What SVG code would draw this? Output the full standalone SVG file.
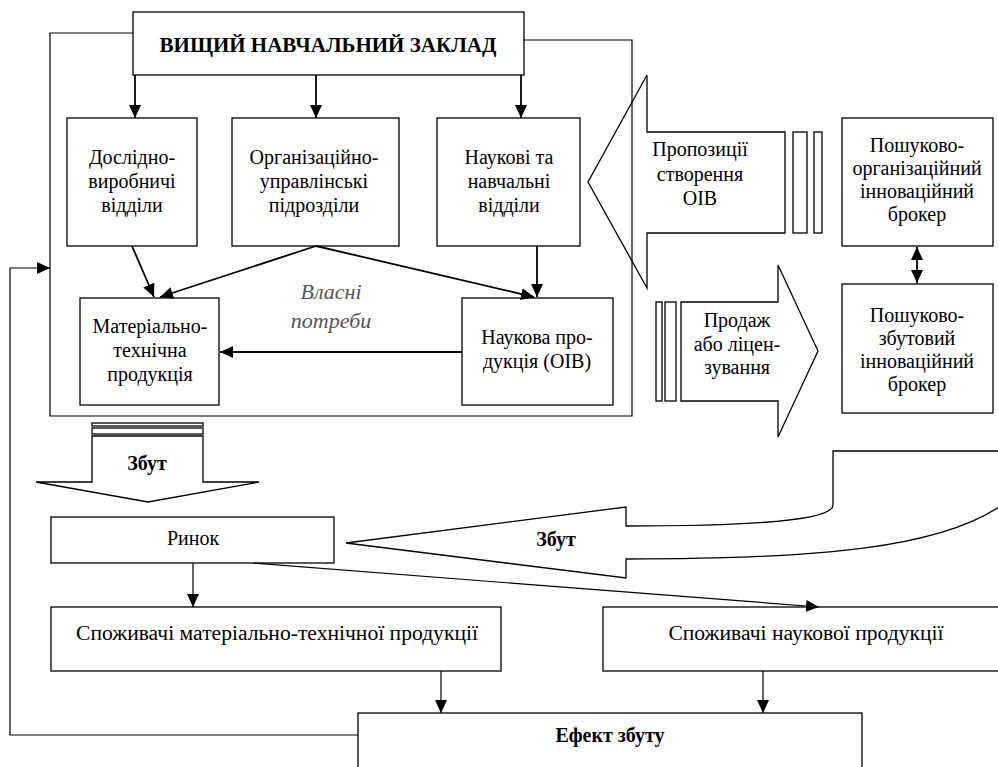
<svg xmlns="http://www.w3.org/2000/svg" width="998" height="767" viewBox="0 0 998 767">
<style>
  .box { fill: #fff; stroke: #000; stroke-width: 1.3; }
  .shape { fill: none; stroke: #000; stroke-width: 1.3; }
  .ln { fill: none; stroke: #000; stroke-width: 1.8; }
  .thin { fill: none; stroke: #000; stroke-width: 1.2; }
  text { font-family: "Liberation Serif", "Times New Roman", serif; font-size: 20px; fill: #000; text-anchor: middle; }
  .b { font-weight: bold; }
  .title { font-size: 21px; }
  .big { font-size: 21.6px; }
  .it { font-style: italic; fill: #555; font-size: 22px; }
</style>
<defs>
  <marker id="ah" markerUnits="userSpaceOnUse" markerWidth="13" markerHeight="12" refX="13" refY="6" orient="auto-start-reverse">
    <path d="M0,0 L13,6 L0,12 z" fill="#000"/>
  </marker>
</defs>
<rect width="998" height="767" fill="#fff"/>

<g id="container">
  <path class="thin" d="M133,33 H50 V416 H632 V40 H524"/>
</g>

<g id="vnz">
  <rect class="box" x="133" y="12" width="391" height="63"/>
  <text class="b title" x="328" y="52">ВИЩИЙ НАВЧАЛЬНИЙ ЗАКЛАД</text>
</g>
<g id="dosl">
  <rect class="box" x="67" y="118" width="130" height="128"/>
  <text x="132" y="164">Дослідно-</text>
  <text x="132" y="188">виробничі</text>
  <text x="132" y="212">відділи</text>
</g>
<g id="org">
  <rect class="box" x="232" y="118" width="167" height="128"/>
  <text x="314" y="164">Організаційно-</text>
  <text x="314" y="188">управлінські</text>
  <text x="314" y="212">підрозділи</text>
</g>
<g id="nauk">
  <rect class="box" x="437" y="118" width="143" height="128"/>
  <text x="509" y="164">Наукові та</text>
  <text x="509" y="188">навчальні</text>
  <text x="509" y="212">відділи</text>
</g>
<g id="mat">
  <rect class="box" x="80" y="298" width="139" height="107"/>
  <text x="150" y="333">Матеріально-</text>
  <text x="150" y="357">технічна</text>
  <text x="150" y="381">продукція</text>
</g>
<g id="naukprod">
  <rect class="box" x="462" y="298" width="151" height="107"/>
  <text x="537" y="344">Наукова про-</text>
  <text x="537" y="368">дукція (ОІВ)</text>
</g>
<g id="vlasni">
  <text class="it" x="331" y="299">Власні</text>
  <text class="it" x="331" y="328">потреби</text>
</g>

<g id="propozytsii">
  <polygon class="shape" points="785,132 647,132 647,75 588,182 647,288 647,233 785,233"/>
  <rect class="shape" x="793" y="132" width="14" height="101"/>
  <rect class="shape" x="814" y="132" width="8" height="101"/>
  <text x="700" y="156">Пропозиції</text>
  <text x="700" y="181">створення</text>
  <text x="700" y="205">ОІВ</text>
</g>
<g id="prodazh">
  <polygon class="shape" points="681,302 778,302 778,265 818,351 778,437 778,401 681,401"/>
  <rect class="shape" x="656" y="302" width="6" height="99"/>
  <rect class="shape" x="665" y="302" width="11" height="99"/>
  <text x="737" y="327">Продаж</text>
  <text x="737" y="351">або ліцен-</text>
  <text x="737" y="374">зування</text>
</g>
<g id="broker1">
  <rect class="box" x="842" y="118" width="151" height="128"/>
  <text x="917" y="152">Пошуково-</text>
  <text x="917" y="175">організаційний</text>
  <text x="917" y="198">інноваційний</text>
  <text x="917" y="221">брокер</text>
</g>
<g id="broker2">
  <rect class="box" x="842" y="284" width="151" height="129"/>
  <text x="917" y="322">Пошуково-</text>
  <text x="917" y="345">збутовий</text>
  <text x="917" y="368">інноваційний</text>
  <text x="917" y="391">брокер</text>
</g>

<g id="zbut1">
  <rect class="shape" x="92" y="423" width="111" height="3"/>
  <rect class="shape" x="92" y="428" width="111" height="6"/>
  <polygon class="shape" points="92,436 203,436 203,482 259,482 148,502 36,482 92,482"/>
  <text class="b" x="147" y="470">Збут</text>
</g>
<g id="zbut2">
  <path class="shape" d="M1000,451 H833 V505 C833,520 760,526 626,526 V507 L346,543 L626,578 V559 C820,559 940,548 1002,505"/>
  <text class="b" x="556" y="546">Збут</text>
</g>
<g id="rynok">
  <rect class="box" x="51" y="517" width="283" height="46"/>
  <text x="193" y="545">Ринок</text>
</g>
<g id="spmtp">
  <rect class="box" x="51" y="607" width="450" height="64"/>
  <text class="big" x="277" y="640">Споживачі матеріально-технічної продукції</text>
</g>
<g id="spnp">
  <rect class="box" x="603" y="607" width="410" height="64"/>
  <text class="big" x="806" y="640">Споживачі наукової продукції</text>
</g>
<g id="efekt">
  <rect class="box" x="358" y="713" width="504" height="70"/>
  <text class="b" x="610" y="742">Ефект збуту</text>
</g>

<g id="connectors">
  <line class="ln" x1="135" y1="75" x2="135" y2="118" marker-end="url(#ah)"/>
  <line class="ln" x1="316" y1="75" x2="316" y2="118" marker-end="url(#ah)"/>
  <line class="ln" x1="521" y1="75" x2="521" y2="118" marker-end="url(#ah)"/>
  <line class="ln" x1="132" y1="246" x2="154" y2="297" marker-end="url(#ah)"/>
  <line class="ln" x1="316" y1="246" x2="160" y2="297" marker-end="url(#ah)"/>
  <line class="ln" x1="316" y1="246" x2="534" y2="297" marker-end="url(#ah)"/>
  <line class="ln" x1="537" y1="246" x2="537" y2="297" marker-end="url(#ah)"/>
  <line class="ln" x1="462" y1="352" x2="220" y2="352" marker-end="url(#ah)"/>
  <line class="ln" x1="917" y1="247" x2="917" y2="283" marker-start="url(#ah)" marker-end="url(#ah)"/>
  <line class="thin" x1="193" y1="563" x2="193" y2="607" marker-end="url(#ah)"/>
  <line class="thin" x1="253" y1="563" x2="819" y2="607" marker-end="url(#ah)"/>
  <line class="thin" x1="441" y1="671" x2="441" y2="713" marker-end="url(#ah)"/>
  <line class="thin" x1="763" y1="671" x2="763" y2="713" marker-end="url(#ah)"/>
  <path class="thin" d="M358,735 H10 V268 H50" marker-end="url(#ah)"/>
</g>
</svg>
